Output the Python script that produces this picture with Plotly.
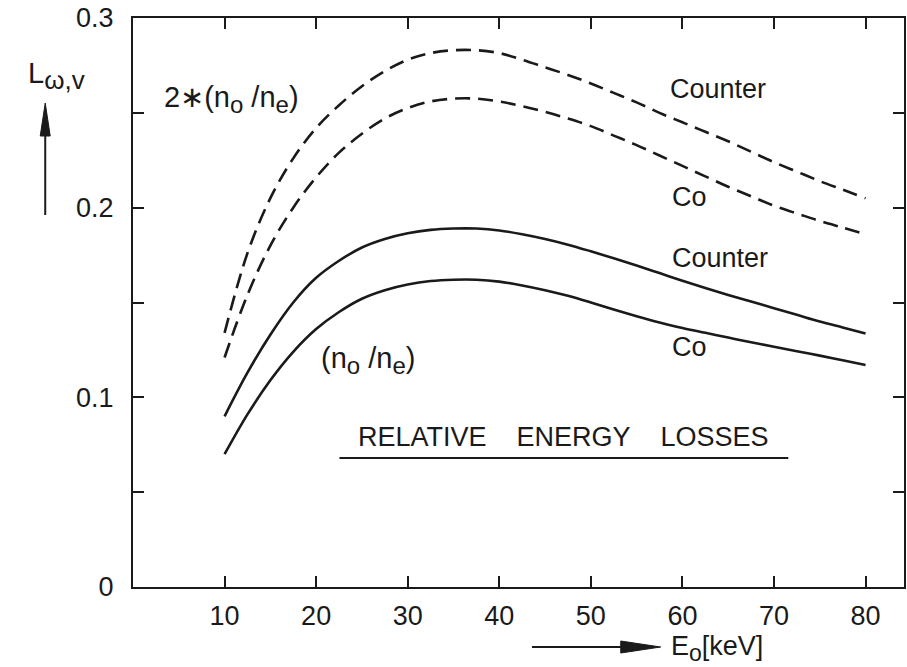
import plotly.graph_objects as go

# Beam energy grid [keV]
energy_kev = [10, 12.5, 15, 17.5, 20, 22.5, 25, 27.5, 30, 32.5, 35, 37.5, 40, 42.5, 45,
              47.5, 50, 52.5, 55, 57.5, 60, 62.5, 65, 67.5, 70, 72.5, 75, 77.5, 80]

# Relative energy losses L_w,v, density ratio 2*(n0/ne) (dashed)
counter_2x = [0.134, 0.176, 0.205, 0.226, 0.242, 0.254, 0.264, 0.272, 0.278, 0.2815,
              0.283, 0.283, 0.2815, 0.278, 0.274, 0.270, 0.2655, 0.2605, 0.2555, 0.250,
              0.245, 0.240, 0.235, 0.2295, 0.224, 0.219, 0.214, 0.2095, 0.205]
co_2x = [0.121, 0.154, 0.180, 0.200, 0.216, 0.229, 0.239, 0.247, 0.2525, 0.256,
         0.2575, 0.2575, 0.256, 0.2535, 0.2505, 0.247, 0.243, 0.238, 0.233, 0.2275,
         0.222, 0.2165, 0.211, 0.206, 0.201, 0.197, 0.193, 0.1895, 0.186]

# Relative energy losses, density ratio (n0/ne) (solid)
counter_1x = [0.090, 0.113, 0.133, 0.150, 0.163, 0.172, 0.179, 0.1835, 0.1865, 0.1883,
              0.189, 0.189, 0.188, 0.186, 0.1835, 0.1805, 0.177, 0.1733, 0.1695, 0.1655,
              0.1615, 0.1577, 0.154, 0.1505, 0.147, 0.1435, 0.140, 0.1368, 0.1336]
co_1x = [0.070, 0.091, 0.109, 0.124, 0.136, 0.145, 0.152, 0.1565, 0.1595, 0.1613,
         0.162, 0.162, 0.161, 0.159, 0.1565, 0.1535, 0.150, 0.1463, 0.1428, 0.1395,
         0.1365, 0.134, 0.1315, 0.129, 0.1267, 0.1243, 0.122, 0.1195, 0.117]

x_ticks = [10, 20, 30, 40, 50, 60, 70, 80]
y_ticks = [0, 0.05, 0.1, 0.15, 0.2, 0.25, 0.3]
y_tick_text = ["0", "", "0.1", "", "0.2", "", "0.3"]

W, H = 907, 667
L, R, T, B = 133, 906, 18, 587
FONT = "Liberation Sans, Arial, sans-serif"
INK = "#1a1a1a"


def paper(px, py):
    return (px - L) / (R - L), (B - py) / (B - T)


fig = go.Figure()
series = [
    (counter_2x, "dash"),
    (co_2x, "dash"),
    (counter_1x, "solid"),
    (co_1x, "solid"),
]
for values, style in series:
    fig.add_trace(go.Scatter(
        x=energy_kev, y=values, mode="lines",
        line=dict(color=INK, width=2.6, shape="spline", smoothing=1.0,
                  dash="15px,8px" if style == "dash" else "solid"),
        showlegend=False, hoverinfo="skip",
    ))

annotations = []


def label(text, px, py, size=27, xanchor="left"):
    x, y = paper(px, py)
    annotations.append(dict(text=text, x=x, y=y, xref="paper", yref="paper",
                            xanchor=xanchor, yanchor="middle", showarrow=False,
                            font=dict(family=FONT, size=size, color=INK)))


def sub(s, size):
    return "<sub><span style='font-size:%dpx'>%s</span></sub>" % (size, s)


ratio = "(n" + sub("o", 24) + "\u00a0/n" + sub("e", 24) + ")"
label("2\u2217" + ratio, 162, 100, size=29)
label("Counter", 669, 89)
label("Co", 671, 197)
label("Counter", 671, 258)
label("Co", 671, 347)
label(ratio, 319, 360, size=29)
label("RELATIVE\u00a0\u00a0\u00a0 ENERGY\u00a0\u00a0\u00a0 LOSSES", 357, 437)
label("L" + sub("\u03c9,v", 26), 26, 76, size=29)
label("E" + sub("o", 23) + "[keV]", 670, 648, size=27)

shapes = []


def seg(p1, p2, width=2):
    x0, y0 = paper(*p1)
    x1, y1 = paper(*p2)
    shapes.append(dict(type="line", xref="paper", yref="paper", x0=x0, y0=y0, x1=x1, y1=y1,
                       line=dict(color=INK, width=width)))


def tri(points):
    pts = [paper(*p) for p in points]
    path = "M {} {} L {} {} L {} {} Z".format(*[c for p in pts for c in p])
    shapes.append(dict(type="path", xref="paper", yref="paper", path=path,
                       fillcolor=INK, line=dict(color=INK, width=1)))


# underline of the caption
seg((340, 458), (790, 458))
# vertical arrow beside the y label
seg((45, 215), (45, 130))
tri([(45, 103), (40, 136), (50, 136)])
# horizontal arrow before the x label
seg((533, 647), (628, 647))
tri([(662, 647), (622, 641), (622, 653)])

axis_common = dict(showline=True, linecolor=INK, linewidth=2, mirror="ticks",
                   ticks="inside", ticklen=11, tickwidth=2, tickcolor=INK,
                   showgrid=False, zeroline=False,
                   tickfont=dict(family=FONT, size=27, color=INK))

fig.update_layout(
    width=W, height=H,
    margin=dict(l=L, r=W - R, t=T, b=H - B),
    paper_bgcolor="white", plot_bgcolor="white",
    xaxis=dict(range=[0, 84.2], tickvals=x_ticks, ticktext=[str(v) for v in x_ticks],
               ticklabelstandoff=4, **axis_common),
    yaxis=dict(range=[0, 0.3], tickvals=y_ticks, ticktext=y_tick_text,
               ticklabelstandoff=12, **axis_common),
    annotations=annotations,
    shapes=shapes,
)

fig.write_html("out.html")
